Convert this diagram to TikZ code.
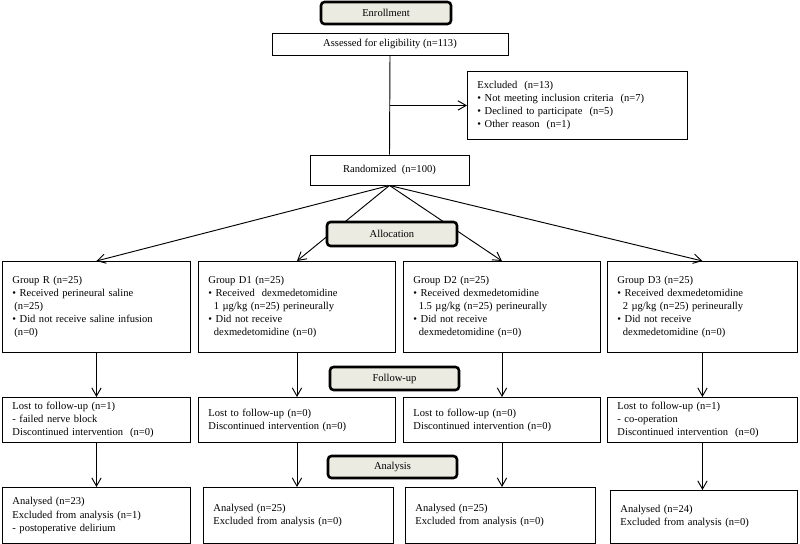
\documentclass[tikz,border=0pt]{standalone}
\usepackage{fontspec}
\setmainfont{Liberation Serif}
\usepackage{tikz}
\usetikzlibrary{arrows.meta}
\definecolor{stagefill}{RGB}{236,235,225}
\tikzstyle{stagebox}=[draw,rounded corners=3pt,line width=2.2pt,fill=stagefill]
\tikzstyle{linebox}=[draw,line width=0.8pt]
\tikzstyle{listbox}=[draw,line width=0.8pt,anchor=north west,align=left,inner xsep=0.3cm,inner ysep=0pt]
\tikzstyle{flow}=[-{Straight Barb[length=7pt,width=8pt]},line width=0.8pt]

\begin{document}
\begin{tikzpicture}[x=0.03cm,y=-0.03cm,font=\fontsize{9}{11.1}\selectfont]

\useasboundingbox (0,0) rectangle (800,544);

%%% Enrollment

\node [stagebox,minimum width=3.9cm,minimum height=0.66cm] (enroll) at (386,13) {Enrollment};

\node [linebox,minimum width=7.08cm,minimum height=0.66cm] (assess) at (390,44)
{Assessed for eligibility (n=113)};

\node [listbox,text width=6cm,minimum height=2.04cm] (excl) at (467,71)
{Excluded~ (n=13)\\
\textbullet\ Not meeting inclusion criteria~ (n=7)\\
\textbullet\ Declined to participate~ (n=5)\\
\textbullet\ Other reason~ (n=1)};

\node [linebox,minimum width=4.77cm,minimum height=0.9cm] (rand) at (389.5,170)
{Randomized~ (n=100)};

% Enrollment links

\draw [line width=0.8pt] (assess.south) -- (rand.north);

\coordinate (exclturn) at (assess.south |- excl.west);
\draw [flow] (exclturn) -- (excl.west);

%%% Allocation

% Group R

\node [listbox,text width=5.04cm,minimum height=2.73cm] (gR) at (2,261)
{Group R (n=25)\\
\textbullet\ Received perineural saline\\
\hspace*{0.6mm}(n=25)\\
\textbullet\ Did not receive saline infusion\\
\hspace*{0.6mm}(n=0)};

% Group D1

\node [listbox,text width=5.31cm,minimum height=2.73cm] (gD1) at (198,261)
{Group D1 (n=25)\\
\textbullet\ Received~ dexmedetomidine\\
\hspace*{1.6mm}1 µg/kg (n=25) perineurally\\
\textbullet\ Did not receive\\
\hspace*{1.6mm}dexmedetomidine (n=0)};

% Group D2

\node [listbox,text width=5.31cm,minimum height=2.73cm] (gD2) at (403,261)
{Group D2 (n=25)\\
\textbullet\ Received dexmedetomidine\\
\hspace*{1.6mm}1.5 µg/kg (n=25) perineurally\\
\textbullet\ Did not receive\\
\hspace*{1.6mm}dexmedetomidine (n=0)};

% Group D3

\node [listbox,text width=5.1cm,minimum height=2.73cm] (gD3) at (607,261)
{Group D3 (n=25)\\
\textbullet\ Received dexmedetomidine\\
\hspace*{1.6mm}2 µg/kg (n=25) perineurally\\
\textbullet\ Did not receive\\
\hspace*{1.6mm}dexmedetomidine (n=0)};

% Randomized to groups

\draw [flow] (rand.south) -- (gR.north);
\draw [flow] (rand.south) -- (gD1.north);
\draw [flow] (rand.south) -- (gD2.north);
\draw [flow] (rand.south) -- (gD3.north);

\node [stagebox,minimum width=3.9cm,minimum height=0.72cm] (alloc) at (392,234) {Allocation};

%%% Follow-up

\node [stagebox,minimum width=3.87cm,minimum height=0.69cm] (follow) at (394.5,378.5) {Follow-up};

\node [listbox,text width=5.04cm,minimum height=1.35cm] (lR) at (2,397)
{Lost to follow-up (n=1)\\
- failed nerve block\\
Discontinued intervention~ (n=0)};

\node [listbox,text width=5.31cm,minimum height=1.35cm] (lD1) at (198,397)
{Lost to follow-up (n=0)\\
Discontinued intervention (n=0)};

\node [listbox,text width=5.31cm,minimum height=1.35cm] (lD2) at (403,397)
{Lost to follow-up (n=0)\\
Discontinued intervention (n=0)};

\node [listbox,text width=5.1cm,minimum height=1.35cm] (lD3) at (607,397)
{Lost to follow-up (n=1)\\
- co-operation\\
Discontinued intervention~ (n=0)};

\draw [flow] (gR.south) -- (lR.north);
\draw [flow] (gD1.south) -- (lD1.north);
\draw [flow] (gD2.south) -- (lD2.north);
\draw [flow] (gD3.south) -- (lD3.north);

%%% Analysis

\node [stagebox,minimum width=3.87cm,minimum height=0.66cm] (analysis) at (392.5,467) {Analysis};

\node [listbox,text width=5.04cm,minimum height=1.68cm] (aR) at (2,487)
{Analysed (n=23)\\
Excluded from analysis (n=1)\\
- postoperative delirium};

\node [listbox,text width=5.1cm,minimum height=1.68cm] (aD1) at (203,487)
{Analysed (n=25)\\
Excluded from analysis (n=0)};

\node [listbox,text width=5.1cm,minimum height=1.68cm] (aD2) at (405,487)
{Analysed (n=25)\\
Excluded from analysis (n=0)};

\node [listbox,text width=5.01cm,minimum height=1.59cm] (aD3) at (610,490)
{Analysed (n=24)\\
Excluded from analysis (n=0)};

\draw [flow] (lR.south) -- (lR.south |- aR.north);
\draw [flow] (lD1.south) -- (lD1.south |- aD1.north);
\draw [flow] (lD2.south) -- (lD2.south |- aD2.north);
\draw [flow] (lD3.south) -- (lD3.south |- aD3.north);

\end{tikzpicture}
\end{document}
